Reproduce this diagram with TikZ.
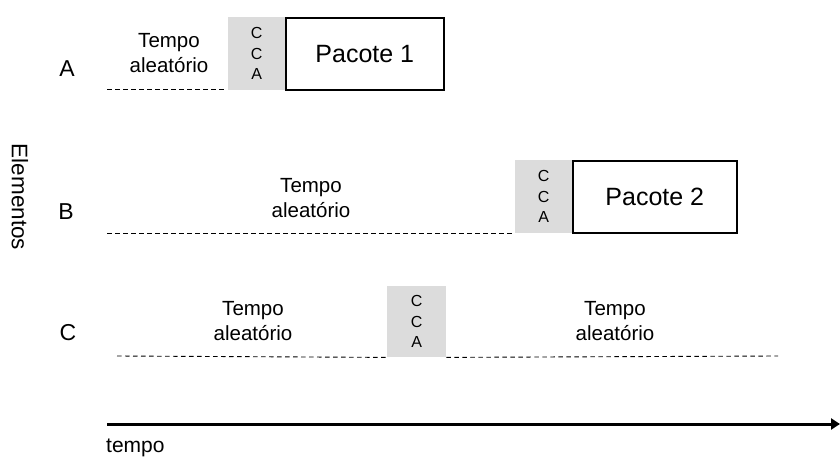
\documentclass[tikz,border=0pt]{standalone}
\usepackage{fontspec}
\setmainfont{Liberation Sans}
\usetikzlibrary{arrows.meta}
\definecolor{ccagray}{RGB}{220,220,220}
\begin{document}
\begin{tikzpicture}[x=1pt,y=-1pt,
  lbl/.style={font=\fontsize{20.5}{24.5}\selectfont, align=center, inner sep=0pt},
  rowlbl/.style={font=\fontsize{23}{26}\selectfont, inner sep=0pt},
  cca/.style={fill=ccagray, draw=none, minimum width=57pt, minimum height=73pt,
    inner sep=0pt, align=center, font=\fontsize{16}{20.5}\selectfont, anchor=north west},
  pkt/.style={draw=black, line width=1.6pt, minimum height=72pt, inner sep=0pt,
    font=\fontsize{25}{28}\selectfont, anchor=north west},
  wait/.style={dashed, dash pattern=on 4.5pt off 3.5pt, line width=0.9pt}]
\useasboundingbox (0,0) rectangle (840,457);

% row labels and vertical axis title
\node[rowlbl] (la) at (67,69) {A};
\node[rowlbl] (lb) at (66,212) {B};
\node[rowlbl] (lc) at (68,333) {C};
\node[font=\fontsize{22.5}{26}\selectfont, rotate=-90, inner sep=0pt] (elem) at (20,197) {Elementos};

% element A
\coordinate (a0) at (107,89);
\coordinate (a1) at (225,89);
\node[cca] (ccaA) at (228,17) {C\\C\\A};
\node[pkt, minimum width=158pt] (p1) at (285,17) {Pacote 1};
\node[lbl] (tA) at (169,53) {Tempo\\aleatório};
\draw[wait] (a0) -- (a1);

% element B
\coordinate (b0) at (107,233);
\coordinate (b1) at (512,233);
\node[cca] (ccaB) at (515,160) {C\\C\\A};
\node[pkt, minimum width=164pt] (p2) at (572,160) {Pacote 2};
\node[lbl] (tB) at (311,198) {Tempo\\aleatório};
\draw[wait] (b0) -- (b1);

% element C
\coordinate (c0) at (117,356);
\coordinate (c1) at (778,356);
\node[cca, minimum width=59pt, minimum height=71pt] (ccaC) at (387,286) {C\\C\\A};
\node[lbl] (tC1) at (253,321) {Tempo\\aleatório};
\node[lbl] (tC2) at (615,321) {Tempo\\aleatório};
\draw[wait] (c0) -- (ccaC.south west);
\draw[wait] (ccaC.south east) -- (c1);

% time axis
\coordinate (t0) at (107,424);
\coordinate (t1) at (840,424);
\draw[line width=3pt, -{Triangle[length=9pt,width=11pt]}] (t0) -- (t1);
\node[font=\fontsize{21}{24}\selectfont, anchor=base west, inner sep=0pt] (tlab) at (106,452) {tempo};
\end{tikzpicture}
\end{document}
